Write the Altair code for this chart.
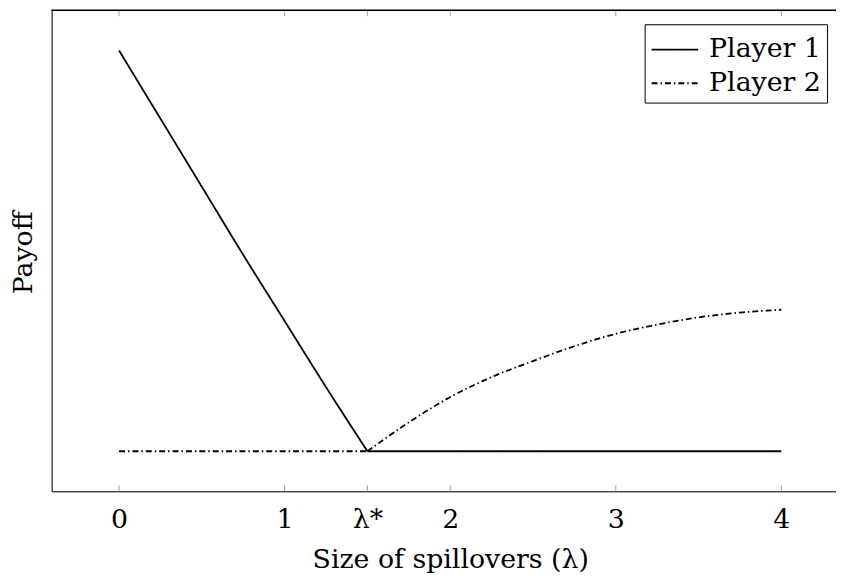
import altair as alt
import pandas as pd

# Player 1: falling curve to lambda*, then flat
p1_curve_x = [0.0, 0.25, 0.5, 0.75, 1.0, 1.25, 1.5]
p1_curve_y = [1.0, 0.83, 0.66, 0.49, 0.325, 0.16, 0.0]
p1_flat_x = [1.5, 4.0]
p1_flat_y = [0.0, 0.0]

# Player 2: flat up to lambda*, then rising concave curve
p2_flat_x = [0.0, 1.5]
p2_flat_y = [0.0, 0.0]
p2_curve_x = [1.5, 1.75, 2.0, 2.25, 2.5, 2.75, 3.0, 3.25, 3.5, 3.75, 4.0]
p2_curve_y = [0.0, 0.072, 0.135, 0.185, 0.225, 0.262, 0.293, 0.316, 0.334, 0.346, 0.353]

tick_values = [0, 1, 1.5, 2, 3, 4]
series_names = ["Player 1", "Player 2"]

rows = []
for seg, xs, ys in [("a", p1_curve_x, p1_curve_y), ("b", p1_flat_x, p1_flat_y)]:
    for x, y in zip(xs, ys):
        rows.append({"player": "Player 1", "seg": "1" + seg, "x": x, "y": y})
for seg, xs, ys in [("a", p2_flat_x, p2_flat_y), ("b", p2_curve_x, p2_curve_y)]:
    for x, y in zip(xs, ys):
        rows.append({"player": "Player 2", "seg": "2" + seg, "x": x, "y": y})
df = pd.DataFrame(rows)
ticks_df = pd.DataFrame({"t": tick_values})

W, H = 791, 485
FONT = "DejaVu Serif"
FS = 27

xscale = alt.Scale(domain=[-0.407, 4.33], nice=False, zero=False)
yscale = alt.Scale(domain=[-0.1, 1.1], nice=False, zero=False)

lines = alt.Chart(df).mark_line(strokeWidth=1.8, interpolate="monotone").encode(
    x=alt.X("x:Q", scale=xscale,
            axis=alt.Axis(values=tick_values, title="Size of spillovers (λ)",
                          labelExpr="datum.value == 1.5 ? 'λ*' : format(datum.value, 'd')",
                          ticks=False, grid=False, domain=True, domainColor="black",
                          domainWidth=1, labelFont=FONT, labelFontSize=FS,
                          labelColor="black", labelBaseline="middle", labelPadding=28,
                          labelFlush=False, labelOverlap=False,
                          titleFont=FONT, titleFontSize=FS, titleFontWeight="normal",
                          titleColor="black", titleX=402, titleY=69,
                          titleAlign="center", titleBaseline="middle")),
    y=alt.Y("y:Q", scale=yscale,
            axis=alt.Axis(title="Payoff", labels=False, ticks=False, grid=False,
                          domain=True, domainColor="black", domainWidth=1,
                          titleFont=FONT, titleFontSize=FS, titleFontWeight="normal",
                          titleColor="black", titleX=-28, titleY=244,
                          titleAlign="center", titleBaseline="middle", titleAngle=270)),
    strokeDash=alt.StrokeDash("player:N",
                              scale=alt.Scale(domain=series_names,
                                              range=[[1, 0], [6, 3, 1.5, 3]]),
                              legend=alt.Legend(title=None, orient="none",
                                                legendX=598, legendY=14,
                                                symbolType="M-1,0H1.54",
                                                symbolSize=1369,
                                                symbolStrokeWidth=1.8,
                                                symbolStrokeColor="black",
                                                symbolFillColor="transparent",
                                                labelFont=FONT, labelFontSize=FS,
                                                labelColor="black", labelOffset=20,
                                                strokeColor="black", fillColor="white",
                                                padding=6, rowPadding=1,
                                                cornerRadius=0)),
    detail="seg:N",
    color=alt.value("black"),
)

tick_bottom = alt.Chart(ticks_df).mark_rule(color="#a0a0a0", strokeWidth=1).encode(
    x=alt.X("t:Q", scale=xscale),
    y=alt.value(H - 6), y2=alt.value(H),
)
tick_top = alt.Chart(ticks_df).mark_rule(color="#a0a0a0", strokeWidth=1).encode(
    x=alt.X("t:Q", scale=xscale),
    y=alt.value(0), y2=alt.value(6),
)
top_border = alt.Chart(ticks_df).mark_rule(color="black", strokeWidth=1).encode(
    x=alt.value(0), x2=alt.value(W), y=alt.value(0),
)

chart = alt.layer(lines, tick_bottom, tick_top, top_border).properties(
    width=W, height=H,
    autosize="none",
    padding={"left": 44, "top": 0, "right": 0, "bottom": 82},
).configure_view(stroke=None).configure(background="white", font=FONT)

chart.save("out.html", embed_options={"renderer": "svg", "actions": False})
